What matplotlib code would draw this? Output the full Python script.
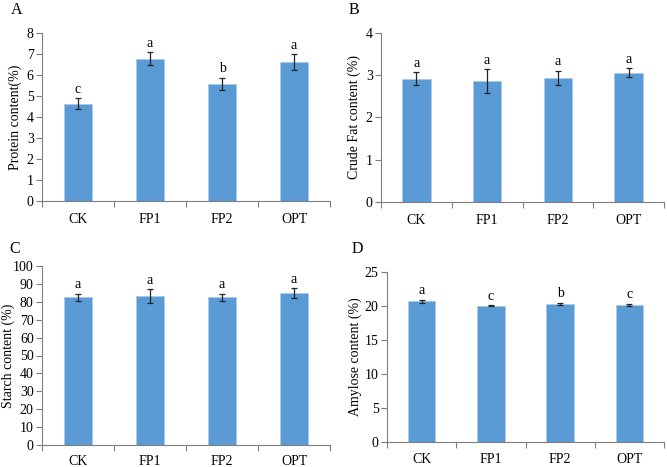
import matplotlib
matplotlib.use('Agg')
import matplotlib.pyplot as plt
import numpy as np

plt.rcParams['font.family'] = ['Liberation Serif', 'DejaVu Serif']
plt.rcParams['font.size'] = 10

# Treatments shared by all four panels
groups = ['CK', 'FP1', 'FP2', 'OPT']

# A: protein content
protein = [4.64, 6.78, 5.58, 6.62]
protein_err = [0.26, 0.31, 0.29, 0.37]
protein_sig = ['c', 'a', 'b', 'a']

# B: crude fat content
fat = [2.92, 2.86, 2.94, 3.06]
fat_err = [0.15, 0.28, 0.17, 0.10]
fat_sig = ['a', 'a', 'a', 'a']

# C: starch content
starch = [82.6, 83.0, 82.6, 84.9]
starch_err = [2.0, 3.9, 2.0, 2.9]
starch_sig = ['a', 'a', 'a', 'a']

# D: amylose content
amylose = [20.68, 20.02, 20.36, 20.18]
amylose_err = [0.20, 0.08, 0.15, 0.15]
amylose_sig = ['a', 'c', 'b', 'c']

W, H = 667, 467
fig = plt.figure(figsize=(W / 100, H / 100), dpi=100)


def add_axes(left, top, right, bottom):
    ax = fig.add_axes([left / W, 1 - bottom / H, (right - left) / W, (bottom - top) / H])
    ax._px = (left, right)
    return ax


def panel(ax, vals, errs, sig, ymax, step, ylabel, letter, lx, ly, off, lab_px, pad=9):
    x = np.arange(len(groups))
    ax.bar(x, vals, width=0.4, color='#5b9bd5', edgecolor='#a9cbea', linewidth=0.6, zorder=2)
    ax.errorbar(x, vals, yerr=errs, fmt='none', ecolor='#222222', elinewidth=0.9,
                capsize=2.2, capthick=0.9, zorder=3)
    for xi, v, e, s in zip(x, vals, errs, sig):
        ax.text(xi, v + e + off, s, ha='center', va='bottom')
    ax.set_xlim(-0.5, len(groups) - 0.5)
    ax.set_ylim(0, ymax)
    ax.set_yticks(np.arange(0, ymax + step / 2, step))
    ax.set_xticks(np.arange(-0.5, len(groups), 1.0))
    ax.set_xticklabels([])
    ax.set_xticks(x, minor=True)
    ax.set_xticklabels(groups, minor=True)
    ax.tick_params(axis='x', which='minor', length=0, pad=pad)
    ax.tick_params(axis='x', which='major', length=4, direction='out', width=0.8,
                   color='#7f7f7f')
    ax.tick_params(axis='y', length=4, direction='out', width=0.8, pad=2, color='#7f7f7f')
    for s in ['top', 'right']:
        ax.spines[s].set_visible(False)
    for s in ['left', 'bottom']:
        ax.spines[s].set_linewidth(0.8)
        ax.spines[s].set_color('#7f7f7f')
    ax.set_ylabel(ylabel)
    left, right = ax._px
    ax.yaxis.set_label_coords((lab_px - left) / (right - left), 0.5)
    fig.text(lx / W, 1 - ly / H, letter, fontsize=11.5, ha='left', va='center')


axA = add_axes(42, 33, 330, 201)
panel(axA, protein, protein_err, protein_sig, 8, 1, 'Protein content(%)', 'A', 11, 10, 0.12, 22)

axB = add_axes(381, 33, 664, 202)
panel(axB, fat, fat_err, fat_sig, 4, 1, 'Crude Fat content (%)', 'B', 349, 10, 0.06, 361)

axC = add_axes(42, 266, 330, 445)
panel(axC, starch, starch_err, starch_sig, 100, 10, 'Starch content (%)', 'C', 9, 249, 1.2, 15,
      pad=7)

axD = add_axes(387, 272, 664, 442)
panel(axD, amylose, amylose_err, amylose_sig, 25, 5, 'Amylose content (%)', 'D', 352, 249, 0.4,
      362, pad=8)

fig.savefig('out.png', dpi=100)
